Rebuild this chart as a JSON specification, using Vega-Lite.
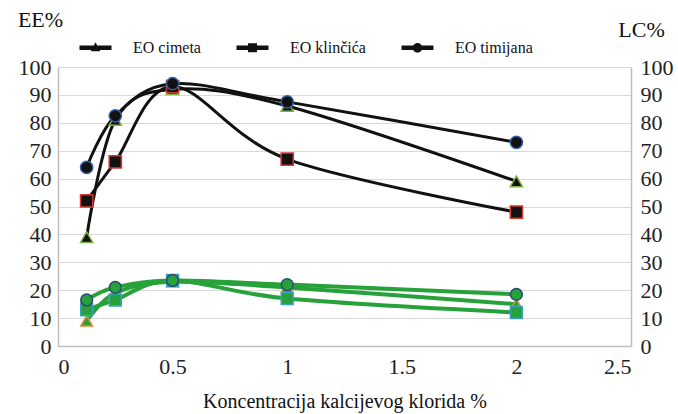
{
  "$schema": "https://vega.github.io/schema/vega-lite/v6.json",
  "width": 573,
  "height": 279,
  "autosize": {"type": "none"},
  "padding": {"left": 58, "top": 67, "right": 47, "bottom": 68},
  "background": "white",
  "config": {
    "view": {"stroke": null},
    "font": "Liberation Serif",
    "axis": {
      "labelFont": "Liberation Serif",
      "titleFont": "Liberation Serif",
      "labelColor": "#222222",
      "titleColor": "#111111",
      "titleFontWeight": "normal",
      "domainColor": "#bfbfbf",
      "domainWidth": 1.5,
      "gridColor": "#d9d9d9",
      "gridWidth": 1.2,
      "ticks": false,
      "tickSize": 0,
      "labelFontSize": 22
    },
    "legend": {"labelFont": "Liberation Serif", "labelFontSize": 16, "labelColor": "#111111"}
  },
  "data": {
    "values": [
      {"c": 0.125, "oil": "EO cimeta", "EE": 39, "LC": 9},
      {"c": 0.25, "oil": "EO cimeta", "EE": 81, "LC": 19},
      {"c": 0.5, "oil": "EO cimeta", "EE": 92, "LC": 23},
      {"c": 1, "oil": "EO cimeta", "EE": 86, "LC": 21},
      {"c": 2, "oil": "EO cimeta", "EE": 59, "LC": 15},
      {"c": 0.125, "oil": "EO klinčića", "EE": 52, "LC": 13},
      {"c": 0.25, "oil": "EO klinčića", "EE": 66, "LC": 16.5},
      {"c": 0.5, "oil": "EO klinčića", "EE": 93, "LC": 23.5},
      {"c": 1, "oil": "EO klinčića", "EE": 67, "LC": 17},
      {"c": 2, "oil": "EO klinčića", "EE": 48, "LC": 12},
      {"c": 0.125, "oil": "EO timijana", "EE": 64, "LC": 16.5},
      {"c": 0.25, "oil": "EO timijana", "EE": 82.5, "LC": 21},
      {"c": 0.5, "oil": "EO timijana", "EE": 94, "LC": 23.5},
      {"c": 1, "oil": "EO timijana", "EE": 87.5, "LC": 22},
      {"c": 2, "oil": "EO timijana", "EE": 73, "LC": 18.5}
    ]
  },
  "encoding": {
    "x": {
      "field": "c",
      "type": "quantitative",
      "scale": {"domain": [0, 2.5]},
      "axis": {
        "values": [0, 0.5, 1, 1.5, 2, 2.5],
        "format": "~g",
        "grid": false,
        "labelFontSize": 22,
        "labelPadding": 10,
        "title": "Koncentracija kalcijevog klorida %",
        "titleFontSize": 20,
        "titlePadding": 14
      }
    }
  },
  "layer": [
    {
      "encoding": {
        "y": {
          "field": "EE",
          "type": "quantitative",
          "scale": {"domain": [0, 100]},
          "axis": {
            "values": [0, 10, 20, 30, 40, 50, 60, 70, 80, 90, 100],
            "grid": true,
            "labelFontSize": 22,
            "labelPadding": 7,
            "title": "EE%",
            "titleAngle": 0,
            "titleX": -18,
            "titleY": -48,
            "titleAlign": "center",
            "titleBaseline": "middle",
            "titleFontSize": 22
          }
        }
      },
      "layer": [
        {
          "mark": {"type": "line", "interpolate": "cardinal", "tension": 0, "color": "#111111", "strokeWidth": 3},
          "encoding": {"detail": {"field": "oil"}}
        },
        {
          "mark": {"type": "point", "filled": true, "fill": "#111111", "size": 150, "strokeWidth": 1.5, "opacity": 1},
          "encoding": {
            "shape": {
              "field": "oil",
              "type": "nominal",
              "scale": {"domain": ["EO cimeta", "EO klinčića", "EO timijana"], "range": ["triangle-up", "square", "circle"]},
              "legend": null
            },
            "stroke": {
              "field": "oil",
              "type": "nominal",
              "scale": {"domain": ["EO cimeta", "EO klinčića", "EO timijana"], "range": ["#7cb342", "#d33a2f", "#2f5fa8"]},
              "legend": null
            }
          }
        },
        {
          "mark": {"type": "point", "filled": true, "color": "#111111", "size": 0},
          "encoding": {
            "shape": {
              "field": "oil",
              "type": "nominal",
              "scale": {
                "domain": ["EO cimeta", "EO klinčića", "EO timijana"],
                "range": [
                  "M-1,-0.14H1V0.14H-1Z M0,-0.34L0.3,0.22H-0.3Z",
                  "M-1,-0.14H1V0.14H-1Z M-0.28,-0.28H0.28V0.28H-0.28Z",
                  "M-1,-0.14H1V0.14H-1Z M0.3,0A0.3,0.3 0 1 1 -0.3,0A0.3,0.3 0 1 1 0.3,0Z"
                ]
              },
              "legend": {
                "orient": "none",
                "direction": "horizontal",
                "legendX": 21,
                "legendY": -36,
                "title": null,
                "symbolSize": 1024,
                "symbolFillColor": "#111111",
                "symbolStrokeColor": "#111111",
                "symbolStrokeWidth": 0.5,
                "symbolOpacity": 1,
                "labelOffset": 21,
                "columnPadding": 34
              }
            }
          }
        }
      ],
      "resolve": {"scale": {"shape": "independent"}}
    },
    {
      "encoding": {
        "y": {
          "field": "LC",
          "type": "quantitative",
          "scale": {"domain": [0, 100]},
          "axis": {
            "orient": "right",
            "values": [0, 10, 20, 30, 40, 50, 60, 70, 80, 90, 100],
            "grid": false,
            "labelFontSize": 22,
            "labelPadding": 9,
            "title": "LC%",
            "titleAngle": 0,
            "titleX": 10,
            "titleY": -38,
            "titleAlign": "center",
            "titleBaseline": "middle",
            "titleFontSize": 22
          }
        }
      },
      "layer": [
        {
          "mark": {"type": "line", "interpolate": "cardinal", "tension": 0, "color": "#27a23b", "strokeWidth": 4},
          "encoding": {"detail": {"field": "oil"}}
        },
        {
          "mark": {"type": "point", "filled": true, "fill": "#27a23b", "size": 140, "strokeWidth": 1.5, "opacity": 1},
          "encoding": {
            "shape": {
              "field": "oil",
              "type": "nominal",
              "scale": {"domain": ["EO cimeta", "EO klinčića", "EO timijana"], "range": ["triangle-up", "square", "circle"]},
              "legend": null
            },
            "stroke": {
              "field": "oil",
              "type": "nominal",
              "scale": {"domain": ["EO cimeta", "EO klinčića", "EO timijana"], "range": ["#e8883a", "#3aa0c0", "#2d4a7a"]},
              "legend": null
            }
          }
        }
      ]
    }
  ],
  "resolve": {"scale": {"y": "independent", "stroke": "independent", "shape": "independent"}}
}
